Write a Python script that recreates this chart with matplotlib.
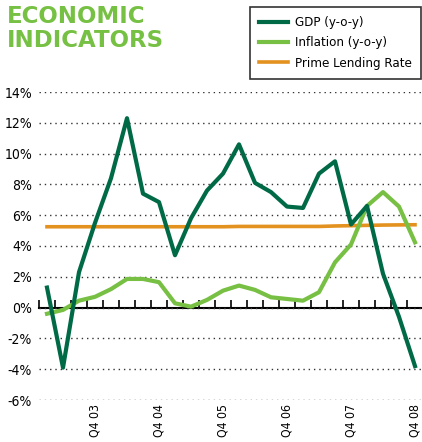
import matplotlib
matplotlib.use('Agg')
import matplotlib.pyplot as plt
import numpy as np

# quarters Q1 03 .. Q4 08
quarters = ['Q%d %02d' % (q, y) for y in range(3, 9) for q in range(1, 5)]

gdp = [1.3, -3.9, 2.3, 5.5, 8.4, 12.3, 7.4, 6.85, 3.4, 5.8, 7.6, 8.7,
       10.6, 8.1, 7.5, 6.56, 6.47, 8.7, 9.5, 5.4, 6.6, 2.2, -0.6, -3.8]
inflation = [-0.4, -0.15, 0.45, 0.7, 1.2, 1.86, 1.86, 1.65, 0.28, 0.06, 0.5, 1.1,
             1.43, 1.15, 0.67, 0.56, 0.45, 1.0, 2.94, 4.1, 6.6, 7.5, 6.56, 4.24]
prime_rate = [5.25] * 12 + [5.27] * 6 + [5.3, 5.32, 5.34, 5.36, 5.37, 5.38]

y_ticks = [-6, -4, -2, 0, 2, 4, 6, 8, 10, 12, 14]

C_GDP = '#006a47'
C_INF = '#77c043'
C_PRIME = '#e3911f'
C_TITLE = '#76c043'

narrow = dict(family='DejaVu Sans', stretch='condensed')

fig = plt.figure(figsize=(4.22, 4.42), dpi=100)
ax = fig.add_axes([39 / 422, 42 / 442, 384 / 422, 308 / 442])

x = np.arange(len(quarters))
ax.plot(x, gdp, color=C_GDP, lw=3, label='GDP (y-o-y)', zorder=4)
ax.plot(x, inflation, color=C_INF, lw=3, label='Inflation (y-o-y)', zorder=3)
ax.plot(x, prime_rate, color=C_PRIME, lw=2.6, label='Prime Lending Rate', zorder=2)

ax.set_xlim(-0.5, len(quarters) - 0.5)
ax.set_ylim(-6, 14)

for s in ax.spines.values():
    s.set_visible(False)

ax.set_yticks(y_ticks)
ax.set_yticklabels(['%d%%' % v for v in y_ticks], fontsize=10, **narrow)
ax.tick_params(axis='y', length=0, pad=5)
ax.yaxis.grid(True, color='#333333', lw=1, linestyle=(0, (1, 2.8)))

# Q4 labels along the bottom
q4 = [i for i, q in enumerate(quarters) if q.startswith('Q4')]
ax.set_xticks(q4)
ax.set_xticklabels([quarters[i] for i in q4], rotation=90, fontsize=8.8, **narrow)
ax.tick_params(axis='x', length=0, pad=3)

# zero line with category ticks
zero = ax.secondary_xaxis(6 / 20)
zero.spines['bottom'].set_linewidth(1.5)
zero.set_xticks(np.arange(len(quarters) + 1) - 0.5)
zero.set_xticklabels([])
zero.tick_params(direction='in', length=6, width=1.2, color='black')

fig.text(7 / 422, 1 - 5 / 442, 'ECONOMIC\nINDICATORS', color=C_TITLE,
         fontsize=16.5, fontweight='heavy', va='top', ha='left', linespacing=1.08)

leg = fig.legend(loc='upper right', bbox_to_anchor=(421 / 422, 1 - 7 / 442),
                 borderaxespad=0, frameon=True, fancybox=False,
                 prop=dict(size=9.5, **narrow),
                 handlelength=2.2, handletextpad=0.5, borderpad=0.7, labelspacing=0.55)
leg.get_frame().set_edgecolor('black')
leg.get_frame().set_linewidth(1.2)

fig.savefig('out.png', dpi=100)
